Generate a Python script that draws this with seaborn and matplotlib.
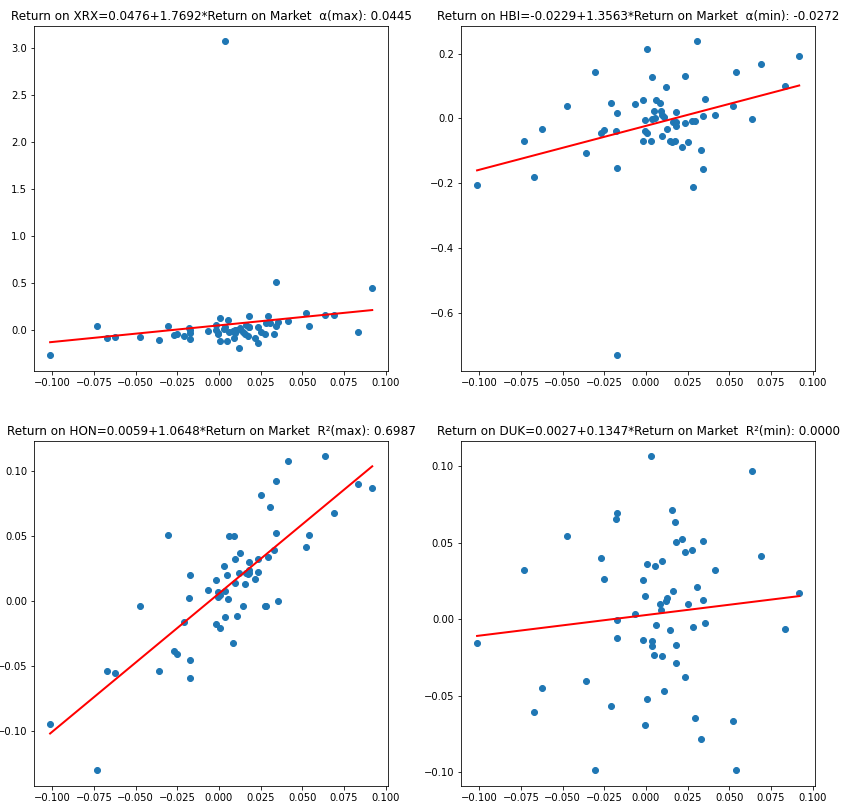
import numpy as np
import pandas as pd
import matplotlib
matplotlib.use("Agg")
import matplotlib.pyplot as plt
import seaborn as sns

# Return on Market (shared x for all panels)
market = [-0.1014, -0.0733, -0.0673, -0.0625, -0.0475, -0.0362, -0.0308, -0.0272, -0.0254, -0.0212,
          -0.0182, -0.0176, -0.0176, -0.0176, -0.0068, -0.0020, -0.0020, -0.0008, -0.0008, 0.0004,
          0.0004, 0.0028, 0.0034, 0.0034, 0.0046, 0.0057, 0.0063, 0.0087, 0.0093, 0.0099,
          0.0099, 0.0111, 0.0123, 0.0129, 0.0147, 0.0159, 0.0165, 0.0177, 0.0183, 0.0183,
          0.0183, 0.0219, 0.0237, 0.0237, 0.0255, 0.0279, 0.0285, 0.0297, 0.0309, 0.0333,
          0.0345, 0.0345, 0.0357, 0.0417, 0.0525, 0.0543, 0.0638, 0.0692, 0.0836, 0.0920]

xrx = [-0.268, 0.039, -0.088, -0.077, -0.077, -0.109, 0.039, -0.056, -0.046, -0.067,
       0.018, -0.035, -0.099, 0.000, -0.010, 0.053, 0.003, -0.046, -0.030, 0.124,
       -0.117, 0.010, 3.070, 0.030, -0.117, 0.106, -0.025, -0.011, -0.088, 0.003,
       -0.030, 0.000, -0.194, 0.018, -0.018, -0.046, 0.053, -0.070, 0.145, 0.025,
       0.032, -0.088, 0.025, -0.141, -0.018, -0.046, 0.071, 0.145, 0.071, -0.046,
       0.046, 0.506, 0.082, 0.095, 0.180, 0.039, 0.159, 0.159, -0.024, 0.442]

hbi = [-0.2049, -0.0695, -0.1803, -0.0326, 0.0382, -0.1065, 0.1428, -0.0449, -0.0357, 0.0474,
       -0.0388, 0.0166, -0.1526, -0.7311, 0.0443, 0.0566, -0.0686, -0.0049, -0.0400, 0.2135,
       -0.0449, -0.0686, 0.1274, -0.0009, 0.0215, 0.0012, 0.0575, 0.0474, 0.0215, -0.0532,
       0.0114, 0.0052, 0.0966, -0.0326, -0.0686, -0.0738, -0.0123, -0.0686, 0.0197, -0.0123,
       -0.0225, -0.0871, 0.1305, -0.0142, -0.0717, -0.0080, -0.2111, -0.0092, 0.2382, -0.0963,
       0.0083, -0.1557, 0.0606, 0.0105, 0.0382, 0.1428, -0.0018, 0.1674, 0.0997, 0.1920]

hon = [-0.0948, -0.1302, -0.0541, -0.0556, -0.0041, -0.0541, 0.0513, -0.0385, -0.0410, -0.0164,
       0.0021, 0.0198, -0.0456, -0.0595, 0.0082, 0.0159, -0.0177, 0.0028, 0.0067, -0.0210,
       0.0050, 0.0269, 0.0075, -0.0125, 0.0198, 0.0013, 0.0505, -0.0325, 0.0505, 0.0321,
       0.0136, -0.0118, 0.0213, 0.0367, -0.0041, 0.0128, 0.0218, 0.0205, 0.0298, 0.0220,
       0.0240, 0.0167, 0.0328, 0.0221, 0.0821, -0.0041, -0.0041, 0.0336, 0.0728, 0.0392,
       0.0928, 0.0521, -0.0002, 0.1082, 0.0413, 0.0513, 0.1115, 0.0675, 0.0905, 0.0875]

duk = [-0.0157, 0.0320, -0.0608, -0.0451, 0.0544, -0.0405, -0.0987, 0.0399, 0.0261, -0.0569,
       0.0654, 0.0693, -0.0007, -0.0124, 0.0037, 0.0255, -0.0137, 0.0150, -0.0693, 0.0359,
       -0.0523, 0.1065, -0.0144, -0.0176, -0.0235, 0.0346, -0.0039, 0.0098, 0.0059, 0.0379,
       -0.0242, -0.0471, 0.0118, 0.0137, -0.0072, 0.0712, 0.0183, 0.0634, 0.0503, -0.0170,
       -0.0288, 0.0523, 0.0438, -0.0379, 0.0098, 0.0451, -0.0052, -0.0647, 0.0209, -0.0784,
       0.0510, 0.0124, -0.0026, 0.0320, -0.0667, -0.0987, 0.0969, 0.0414, -0.0065, 0.0172]

tickers = ["XRX", "HBI", "HON", "DUK"]
intercepts = [0.0476, -0.0229, 0.0059, 0.0027]
slopes = [1.7692, 1.3563, 1.0648, 0.1347]
stat_labels = ["α(max)", "α(min)", "R²(max)", "R²(min)"]
stat_values = [0.0445, -0.0272, 0.6987, 0.0000]

df = pd.DataFrame({"market": market, "XRX": xrx, "HBI": hbi, "HON": hon, "DUK": duk})

fig, axes = plt.subplots(2, 2, figsize=(848 / 72, 803 / 72), dpi=72)
fig.subplots_adjust(left=34 / 848, right=815.3 / 848, top=1 - 25.7 / 803,
                    bottom=1 - 785.7 / 803, wspace=0.205, hspace=0.203)

for ax, t, a, b, sl, sv in zip(axes.flat, tickers, intercepts, slopes, stat_labels, stat_values):
    sns.scatterplot(data=df, x="market", y=t, ax=ax, s=36, color="#1f77b4",
                    edgecolor="#1f77b4", linewidth=1.0)
    xs = df["market"].to_numpy()
    ax.plot(xs, a + b * xs, color="red", linewidth=2.0)
    ax.set_xlabel("")
    ax.set_ylabel("")
    ax.set_title(f"Return on {t}={a:.4f}+{b:.4f}*Return on Market  {sl}: {sv:.4f}", fontsize=12)

fig.savefig("out.png", dpi=72)
